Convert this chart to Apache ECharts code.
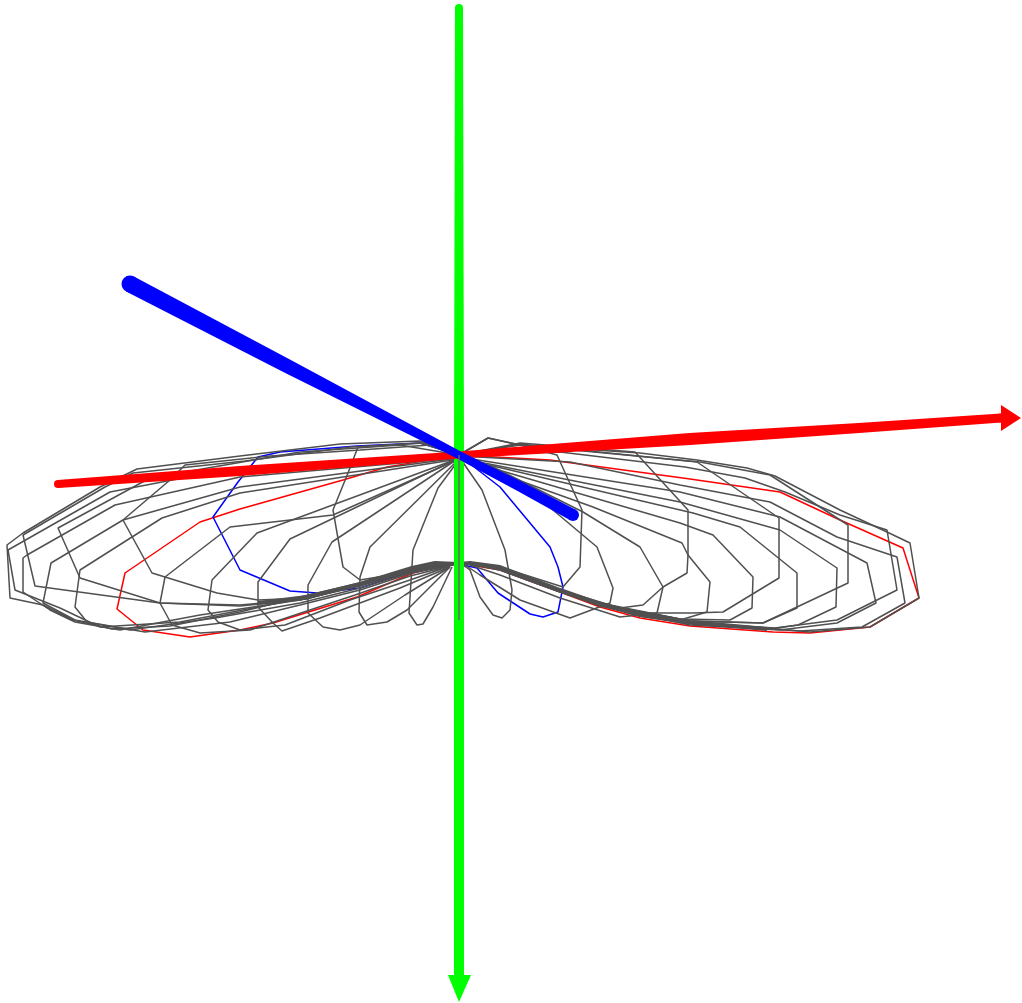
<!DOCTYPE html>
<html>
<head>
<meta charset="utf-8">
<title>pattern</title>
<style>
html, body { margin: 0; padding: 0; background: #fff; }
#chart { width: 1022px; height: 1003px; }
</style>
<script src="https://cdn.jsdelivr.net/npm/echarts@6/dist/echarts.min.js"></script>
</head>
<body>
<div id="chart"></div>
<script>
// projected wireframe, x right / y up from the point where the axes cross
// left lobe
var leftOuter1 = [[0,0],[-39,14],[-119,11],[-219,-1],[-322,-14],[-359,-32],[-436,-78],[-452,-90],[-449,-143],[-416,-150],[-386,-165],[-347,-174],[-289,-171],[-219,-157],[-159,-142],[-99,-128],[-47,-113],[-24,-108],[-6,-109]];
var leftOuter2 = [[0,0],[-34,12],[-109,8],[-214,-6],[-326,-18],[-354,-32],[-436,-80],[-424,-131],[-299,-148],[-219,-151],[-159,-145],[-99,-130],[-47,-114],[-24,-108],[-6,-109]];
var leftOuter3 = [[0,-3],[-219,-22],[-344,-50],[-432,-100],[-436,-103],[-436,-137],[-409,-155],[-384,-167],[-339,-175],[-259,-160],[-159,-145],[-99,-131],[-47,-116],[-6,-109]];
var leftOuter4 = [[0,-2],[-219,-12],[-349,-37],[-451,-95],[-444,-135],[-399,-153],[-359,-172],[-279,-167],[-159,-144],[-99,-130],[-47,-115],[-6,-109]];
var leftFront8 = [[0,-3],[-219,-32],[-336,-65],[-408,-108],[-416,-148],[-384,-165],[-329,-175],[-244,-163],[-159,-148],[-99,-133],[-47,-117],[-6,-110]];
var leftFront7 = [[0,-4],[-219,-38],[-297,-63],[-379,-115],[-384,-152],[-372,-167],[-314,-177],[-229,-167],[-159,-150],[-99,-135],[-47,-118],[-6,-110]];
var leftFront6 = [[0,-4],[-126,-60],[-229,-72],[-294,-122],[-299,-148],[-287,-170],[-259,-178],[-209,-175],[-104,-140],[-49,-121],[-9,-111]];
var leftFront5 = [[-2,-4],[-202,-78],[-247,-125],[-251,-155],[-241,-167],[-219,-175],[-174,-170],[-109,-145],[-49,-125],[-9,-111]];
var leftFront4 = [[-4,-5],[-169,-84],[-201,-127],[-201,-152],[-186,-168],[-177,-176],[-139,-163],[-59,-133],[-9,-112]];
var leftFront3 = [[-3,-5],[-127,-87],[-151,-130],[-151,-158],[-136,-172],[-119,-175],[-99,-170],[-54,-140],[-9,-112]];
var leftFront2 = [[-2,-6],[-89,-92],[-99,-122],[-100,-157],[-92,-170],[-72,-167],[-52,-155],[-9,-112]];
var leftFront1 = [[-1,-6],[-21,-33],[-46,-95],[-50,-158],[-42,-170],[-36,-169],[-26,-152],[-7,-112]];
var leftBack2 = [[0,0],[-59,10],[-159,3],[-309,-23],[-401,-73],[-379,-123],[-299,-148],[-219,-150],[-152,-144],[-99,-129],[-47,-114],[-6,-108]];
var leftBack1 = [[0,0],[-29,10],[-99,5],[-189,-1],[-274,-10],[-289,-25],[-336,-65],[-307,-118],[-242,-138],[-201,-145],[-152,-143],[-99,-129],[-47,-114],[-6,-108]];
var leftBack0 = [[0,0],[-39,12],[-101,8],[-111,-18],[-126,-55],[-116,-112],[-99,-125],[-69,-120],[-47,-113],[-6,-108]];
var leftRed = [[0,0],[-72,-12],[-116,-25],[-219,-54],[-259,-67],[-334,-118],[-342,-154],[-316,-175],[-269,-182],[-219,-175],[-186,-168],[-102,-142],[-46,-118],[-6,-108]];
var leftBlue = [[0,0],[-39,12],[-102,9],[-179,3],[-201,-2],[-221,-27],[-246,-62],[-219,-115],[-169,-136],[-142,-138],[-99,-133],[-47,-116],[-19,-108],[-6,-109]];
var leftRidge = [[-201,-148],[-152,-142],[-99,-129],[-47,-113],[-24,-108],[0,-109]];

// right lobe
var rightOuter1 = [[0,0],[29,17],[61,10],[181,2],[238,-5],[288,-13],[316,-21],[381,-55],[428,-77],[451,-88],[460,-143],[411,-172],[351,-177],[308,-173],[231,-167],[181,-160],[141,-148],[101,-135],[41,-112],[11,-108]];
var rightOuter2 = [[0,0],[101,3],[226,-12],[286,-23],[326,-37],[381,-60],[428,-75],[438,-135],[378,-165],[316,-173],[231,-168],[181,-161],[141,-149],[101,-135],[41,-113],[11,-108]];
var rightOuter3 = [[0,-1],[111,-7],[221,-30],[311,-47],[378,-82],[438,-102],[446,-148],[403,-172],[341,-176],[231,-169],[181,-161],[141,-150],[101,-136],[41,-114],[11,-109]];
var rightFront7 = [[0,-2],[221,-37],[321,-62],[408,-108],[417,-148],[378,-168],[321,-175],[231,-170],[141,-151],[101,-137],[41,-115],[11,-109]];
var rightFront6 = [[0,-3],[221,-47],[321,-75],[378,-113],[377,-152],[339,-170],[311,-174],[231,-168],[141,-150],[101,-136],[41,-114],[11,-109]];
var rightFront5 = [[0,-3],[234,-58],[281,-72],[338,-118],[338,-153],[304,-168],[231,-166],[141,-149],[101,-135],[41,-113],[11,-109]];
var rightFront4 = [[2,-4],[221,-68],[254,-80],[294,-122],[293,-153],[271,-165],[221,-164],[141,-149],[101,-136],[41,-114],[11,-109]];
var rightFront3 = [[3,-5],[134,-52],[223,-88],[229,-100],[251,-127],[248,-157],[221,-165],[181,-158],[101,-137],[41,-115],[11,-109]];
var rightFront2 = [[4,-5],[34,-12],[124,-57],[181,-92],[204,-132],[198,-158],[161,-162],[101,-143],[41,-120],[11,-110]];
var rightFront1 = [[3,-5],[88,-50],[138,-92],[154,-133],[151,-148],[111,-163],[61,-145],[21,-120],[6,-110]];
var rightInner = [[3,-6],[23,-35],[46,-95],[53,-135],[51,-155],[43,-163],[34,-160],[21,-142],[11,-115],[4,-110]];
var rightBack1 = [[0,0],[29,17],[61,10],[98,0],[123,-55],[121,-112],[104,-132],[41,-112],[11,-108]];
var rightBack2 = [[0,0],[61,12],[176,3],[229,-55],[229,-100],[228,-118],[204,-132],[184,-150],[161,-153],[101,-135],[41,-112],[11,-108]];
var rightBack3 = [[0,0],[61,11],[238,-7],[320,-63],[320,-123],[264,-157],[234,-158],[181,-158],[141,-148],[101,-135],[41,-112],[11,-108]];
var rightBack4 = [[0,0],[61,10],[241,-7],[311,-20],[389,-70],[389,-128],[304,-168],[231,-166],[141,-148],[101,-135],[41,-112],[11,-108]];
var rightRed = [[0,0],[91,-5],[231,-24],[321,-37],[381,-65],[444,-93],[460,-143],[411,-172],[351,-178],[314,-177],[231,-171],[181,-163],[141,-152],[101,-137],[41,-115],[11,-110]];
var rightBlue = [[1,-1],[41,-32],[91,-92],[99,-112],[104,-132],[99,-157],[84,-162],[71,-159],[39,-138],[18,-113],[4,-110]];
var rightRidge = [[0,-109],[11,-108],[41,-112],[101,-135],[141,-149],[181,-160],[231,-167],[308,-174]];

var stem = [[0,0],[0,-165]];

// thick axes: stations along each one and the tube width at each station
var redAxis = [[-401,-29],[-219,-16],[0,0],[231,16],[400,27],[542,37]];
var redWidths = [8,10,7,12,10,9];
var greenAxis = [[0,447],[0,0],[0,-525]];
var greenWidths = [8,10,10];
var blueAxis = [[-329,171],[-170,88],[0,0],[60,-31],[114,-60]];
var blueWidths = [17,14,8,10,12];

var redHead = [[542,50],[562,37],[542,24]];
var greenHead = [[-11,-520],[0,-547],[12,-520]];

var greys = [leftOuter1,leftOuter2,leftOuter3,leftOuter4,leftFront8,leftFront7,leftFront6,leftFront5,leftFront4,leftFront3,leftFront2,leftFront1,leftBack2,leftBack1,leftBack0,
	rightOuter1,rightOuter2,rightOuter3,rightFront7,rightFront6,rightFront5,rightFront4,rightFront3,rightFront2,rightFront1,rightInner,rightBack1,rightBack2,rightBack3,rightBack4];

function wire(data, color, z, width) {
	return {
		type: 'line',
		data: data,
		symbol: 'none',
		clip: false,
		silent: true,
		z: z,
		lineStyle: { color: color, width: width || 1.5 }
	};
}

// tapered tube with round ends, goes through api.coord so it stays on the axes
function tube(points, widths, color) {
	return {
		type: 'custom',
		data: [0],
		clip: false,
		silent: true,
		z: 3,
		renderItem: function (params, api) {
			var px = points.map(function (p) { return api.coord(p); });
			var dx = px[px.length - 1][0] - px[0][0];
			var dy = px[px.length - 1][1] - px[0][1];
			var len = Math.sqrt(dx * dx + dy * dy);
			var nx = -dy / len, ny = dx / len;
			var top = [], bottom = [];
			px.forEach(function (p, i) {
				var h = widths[i] / 2;
				top.push([p[0] + nx * h, p[1] + ny * h]);
				bottom.unshift([p[0] - nx * h, p[1] - ny * h]);
			});
			var last = px.length - 1;
			return {
				type: 'group',
				children: [
					{ type: 'polygon', shape: { points: top.concat(bottom) }, style: { fill: color } },
					{ type: 'circle', shape: { cx: px[0][0], cy: px[0][1], r: widths[0] / 2 }, style: { fill: color } },
					{ type: 'circle', shape: { cx: px[last][0], cy: px[last][1], r: widths[last] / 2 }, style: { fill: color } }
				]
			};
		}
	};
}

function head(points, color) {
	return {
		type: 'custom',
		data: [0],
		clip: false,
		silent: true,
		z: 3,
		renderItem: function (params, api) {
			return {
				type: 'polygon',
				shape: { points: points.map(function (p) { return api.coord(p); }) },
				style: { fill: color }
			};
		}
	};
}

var series = [wire(leftRed, '#ff0000', 1), wire(rightRed, '#ff0000', 1), wire(leftBlue, '#0000ff', 1), wire(rightBlue, '#0000ff', 1)];
greys.forEach(function (g) {
	series.push(wire(g, '#505050', 2));
});
series.push(wire(leftRidge, '#505050', 2, 4), wire(rightRidge, '#505050', 2, 4));
series.push(tube(greenAxis, greenWidths, '#00ff00'), tube(redAxis, redWidths, '#ff0000'), tube(blueAxis, blueWidths, '#0000ff'));
series.push(head(redHead, '#ff0000'), head(greenHead, '#00ff00'));
series.push(wire(stem, '#666666', 4, 1.5));

var chart = echarts.init(document.getElementById('chart'));
chart.setOption({
	animation: false,
	backgroundColor: '#ffffff',
	grid: { left: 0, right: 0, top: 0, bottom: 0 },
	xAxis: { type: 'value', min: -459, max: 563, show: false },
	yAxis: { type: 'value', min: -548, max: 455, show: false },
	series: series
});
</script>
</body>
</html>
